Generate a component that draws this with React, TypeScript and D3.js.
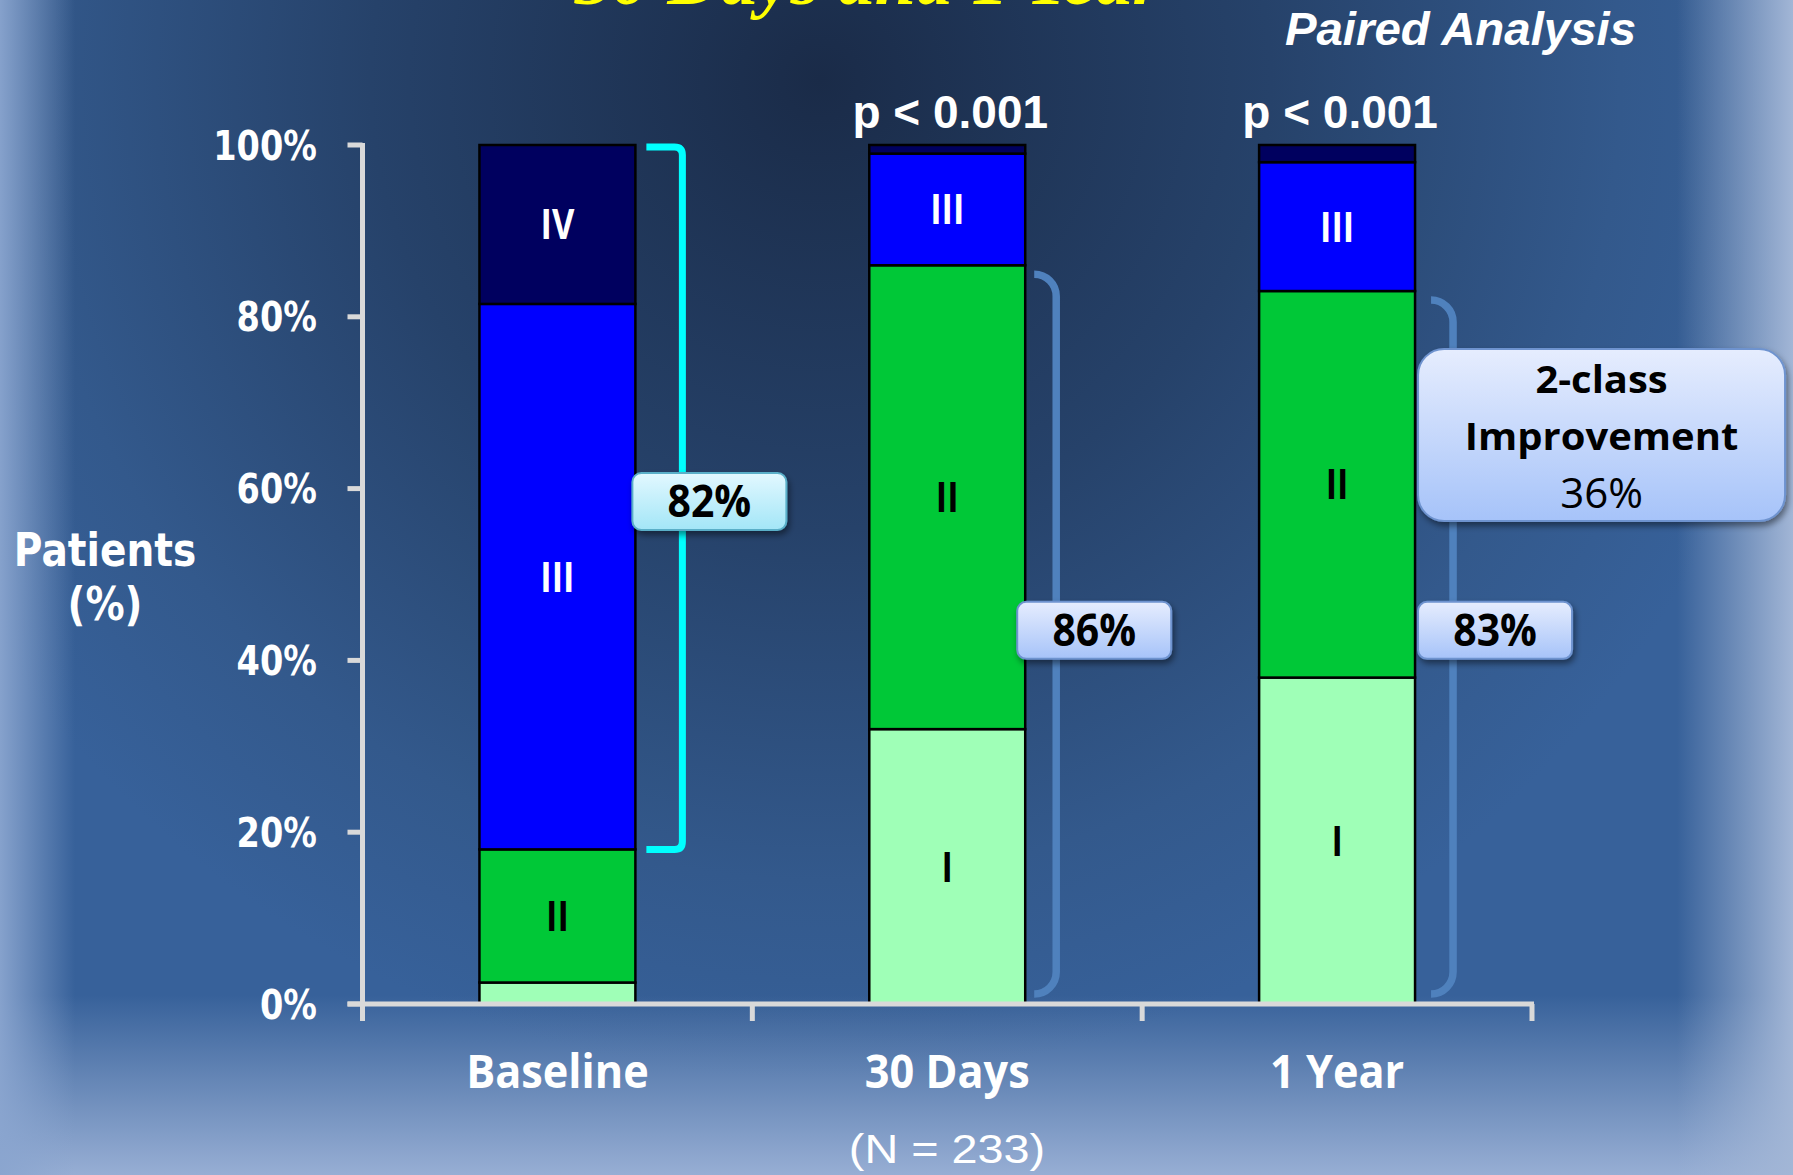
import React from "react";
import * as d3 from "d3";

// NYHA class distribution per time point (percent of patients)
const categories = ["Baseline", "30 Days", "1 Year"];
const classI = [2.5, 32, 38];
const classII = [15.5, 54, 45];
const classIII = [63.5, 13, 15];
const classIV = [18.5, 1, 2];
const classKeys = ["I", "II", "III", "IV"];
const yTicks = [0, 20, 40, 60, 80, 100];
const pLabels = ["", "p < 0.001", "p < 0.001"];
// Baseline: share in class III/IV; follow-ups: share in class I/II
const groupedPct = [82, 86, 83];
const twoClassPct = 36;

const W = 1793;
const H = 1175;

const segFill: Record<string, string> = { I: "#9FFFB7", II: "#00C837", III: "#0000FF", IV: "#00005F" };
const segText: Record<string, string> = { I: "#000000", II: "#000000", III: "#FFFFFF", IV: "#FFFFFF" };

const SANS_WIDE = "'DejaVu Sans', Verdana, sans-serif";
const ARIAL = "'Liberation Sans', Arial, sans-serif";
const CAL = "'Open Sans', 'Noto Sans', sans-serif";

type TProps = {
  x: number;
  y: number;
  sx?: number;
  anchor?: "start" | "middle" | "end";
  size: number;
  weight?: number | string;
  family: string;
  fill?: string;
  italic?: boolean;
  children: React.ReactNode;
};

function T({ x, y, sx = 1, anchor = "middle", size, weight = 700, family, fill = "#fff", italic, children }: TProps) {
  return (
    <text
      transform={`translate(${x},${y}) scale(${sx},1)`}
      textAnchor={anchor}
      fontSize={size}
      fontWeight={weight}
      fontFamily={family}
      fontStyle={italic ? "italic" : "normal"}
      fill={fill}
    >
      {children}
    </text>
  );
}

export default function App() {
  const x = d3
    .scaleBand<string>()
    .domain(categories)
    .range([362.5, 1532])
    .paddingInner(0.6)
    .paddingOuter(0.3);
  const y = d3.scaleLinear().domain([0, 100]).range([1004, 145]);

  const rows = categories.map((c, i) => ({
    cat: c,
    I: classI[i],
    II: classII[i],
    III: classIII[i],
    IV: classIV[i],
  }));
  const series = d3.stack<any>().keys(classKeys)(rows);
  const bw = x.bandwidth();
  const [r0, r1] = x.range();
  const step = x.step();
  const xTicks = d3.range(categories.length + 1).map((k) => r0 + k * step);

  // brackets beside each bar
  const bracketInset = [0, 9, 16];
  const brackets = categories.map((c, i) => {
    const right = (x(c) as number) + bw;
    const p = d3.path();
    if (i === 0) {
      const a = right + 11;
      const b = right + 47;
      const top = y(100) + 2;
      const bot = y(100 - groupedPct[i]);
      p.moveTo(a, top);
      p.lineTo(b - 8, top);
      p.quadraticCurveTo(b, top, b, top + 8);
      p.lineTo(b, bot - 8);
      p.quadraticCurveTo(b, bot, b - 8, bot);
      p.lineTo(a, bot);
    } else {
      const a = right + bracketInset[i];
      const b = a + 22;
      const top = y(groupedPct[i]) + 9;
      const bot = y(0) - 10;
      const rr = b - a;
      p.moveTo(a, top);
      p.arcTo(b, top, b, top + rr, rr);
      p.lineTo(b, bot - rr);
      p.arcTo(b, bot, a, bot, rr);
    }
    return { d: p.toString(), right, cyan: i === 0 };
  });

  const boxCy = [y(58.5), y(43.5), y(43.5)];
  const boxShift = [-3, -8, 3];
  const lastRight = (x(categories[2]) as number) + bw;

  return (
    <svg
      width={W}
      height={H}
      viewBox={`0 0 ${W} ${H}`}
      style={{ position: "absolute", left: 0, top: 0, display: "block" }}
    >
      <defs>
        <radialGradient id="bg" gradientUnits="userSpaceOnUse" cx={820} cy={80} r={1000}>
          <stop offset="0" stopColor="#1A2B48" />
          <stop offset="0.45" stopColor="#26426A" />
          <stop offset="0.8" stopColor="#33598C" />
          <stop offset="1" stopColor="#37619A" />
        </radialGradient>
        <linearGradient id="bottomFade" x1="0" y1="0" x2="0" y2="1">
          <stop offset="0" stopColor="#9AB1D6" stopOpacity="0" />
          <stop offset="1" stopColor="#97AED4" stopOpacity="1" />
        </linearGradient>
        <linearGradient id="leftFade" x1="0" y1="0" x2="1" y2="0">
          <stop offset="0" stopColor="#8AA5CF" stopOpacity="0.95" />
          <stop offset="1" stopColor="#8AA5CF" stopOpacity="0" />
        </linearGradient>
        <linearGradient id="rightFade" x1="0" y1="0" x2="1" y2="0">
          <stop offset="0" stopColor="#A2B6D6" stopOpacity="0" />
          <stop offset="1" stopColor="#A2B6D6" stopOpacity="1" />
        </linearGradient>
        <linearGradient id="cyanBox" x1="0" y1="0" x2="0" y2="1">
          <stop offset="0" stopColor="#E2F8FF" />
          <stop offset="1" stopColor="#A3E6F7" />
        </linearGradient>
        <linearGradient id="blueBox" x1="0" y1="0" x2="0" y2="1">
          <stop offset="0" stopColor="#E6EDFE" />
          <stop offset="1" stopColor="#A6C3F9" />
        </linearGradient>
        <filter id="shadow" x="-20%" y="-20%" width="140%" height="150%">
          <feDropShadow dx="2" dy="4" stdDeviation="3" floodColor="#000" floodOpacity="0.45" />
        </filter>
      </defs>

      {/* background */}
      <rect x={0} y={0} width={W} height={H} fill="url(#bg)" />
      <rect x={0} y={995} width={W} height={H - 995} fill="url(#bottomFade)" />
      <rect x={0} y={0} width={75} height={H} fill="url(#leftFade)" />
      <rect x={1677} y={0} width={W - 1677} height={H} fill="url(#rightFade)" />

      {/* title line, partially above the top edge */}
      <T x={868} y={4} size={74} family="'Liberation Serif', 'Times New Roman', serif" italic fill="#FFFF00">
        30 Days and 1 Year
      </T>
      <T x={1636} y={45} anchor="end" size={46} sx={1.03} family={ARIAL} italic>
        Paired Analysis
      </T>

      {/* p values */}
      {categories.map((c, i) =>
        pLabels[i] ? (
          <T key={c} x={(x(c) as number) + bw / 2 + 3} y={128} size={46} family={ARIAL}>
            {pLabels[i]}
          </T>
        ) : null
      )}

      {/* stacked bars */}
      {series.map((s) => (
        <g key={s.key}>
          {s.map((d: any) => (
            <rect
              key={d.data.cat}
              x={x(d.data.cat)}
              y={y(d[1])}
              width={bw}
              height={y(d[0]) - y(d[1])}
              fill={segFill[s.key]}
              stroke="#000"
              strokeWidth={2.5}
            />
          ))}
        </g>
      ))}
      {series.map((s) =>
        s.map((d: any) =>
          d[1] - d[0] >= 5 ? (
            <T
              key={s.key + d.data.cat}
              x={(x(d.data.cat) as number) + bw / 2}
              y={(y(d[0]) + y(d[1])) / 2 + 15}
              size={42}
              sx={0.82}
              family={CAL}
              fill={segText[s.key]}
            >
              {s.key}
            </T>
          ) : null
        )
      )}

      {/* axes */}
      <g stroke="#D9D9D9" strokeWidth={5} fill="none">
        <line x1={r0} x2={r0} y1={y(100) - 2} y2={y(0) + 2} />
        {yTicks.map((t) => (
          <line key={t} x1={r0 - 15} x2={r0} y1={y(t)} y2={y(t)} />
        ))}
        <line x1={r0 - 15} x2={r1 + 2} y1={y(0)} y2={y(0)} />
        {xTicks.map((t) => (
          <line key={t} x1={t} x2={t} y1={y(0)} y2={y(0) + 17} />
        ))}
      </g>
      {yTicks.map((t) => (
        <T key={t} x={317} y={y(t) + 14.6} anchor="end" size={40} sx={0.84} family={SANS_WIDE}>
          {`${t}%`}
        </T>
      ))}
      <T x={105} y={566} size={46} sx={0.85} family={SANS_WIDE}>
        Patients
      </T>
      <T x={105} y={620} size={46} sx={0.85} family={SANS_WIDE}>
        (%)
      </T>

      {categories.map((c) => (
        <T key={c} x={(x(c) as number) + bw / 2} y={1088} size={46} sx={0.94} family={CAL}>
          {c}
        </T>
      ))}
      <T x={947} y={1163} size={40} sx={1.17} weight={400} family={ARIAL}>
        (N = 233)
      </T>

      {/* brackets and percentage callouts */}
      {brackets.map((b, i) => (
        <path
          key={"br" + i}
          d={b.d}
          fill="none"
          stroke={b.cyan ? "#00FFFF" : "#4F81BD"}
          strokeWidth={b.cyan ? 7 : 7.5}
        />
      ))}
      {brackets.map((b, i) => (
        <g key={"box" + i}>
          <rect
            x={b.right + boxShift[i]}
            y={boxCy[i] - 28.5}
            width={154}
            height={57}
            rx={9}
            fill={b.cyan ? "url(#cyanBox)" : "url(#blueBox)"}
            stroke={b.cyan ? "#5AAFC8" : "#6E93CF"}
            strokeWidth={2}
            filter="url(#shadow)"
          />
          <T x={b.right + boxShift[i] + 77} y={boxCy[i] + 16} size={44} sx={0.93} family={CAL} fill="#000">
            {`${groupedPct[i]}%`}
          </T>
        </g>
      ))}

      {/* 2-class improvement callout */}
      <rect
        x={lastRight + 3}
        y={349}
        width={367}
        height={172}
        rx={26}
        fill="url(#blueBox)"
        stroke="#6E93CF"
        strokeWidth={2}
        filter="url(#shadow)"
      />
      <T x={lastRight + 3 + 183.5} y={393} size={37} sx={1.08} family={CAL} fill="#000">
        2-class
      </T>
      <T x={lastRight + 3 + 183.5} y={450} size={37} sx={1.08} family={CAL} fill="#000">
        Improvement
      </T>
      <T x={lastRight + 3 + 183.5} y={508} size={42} weight={400} family={CAL} fill="#000">
        {`${twoClassPct}%`}
      </T>
    </svg>
  );
}
